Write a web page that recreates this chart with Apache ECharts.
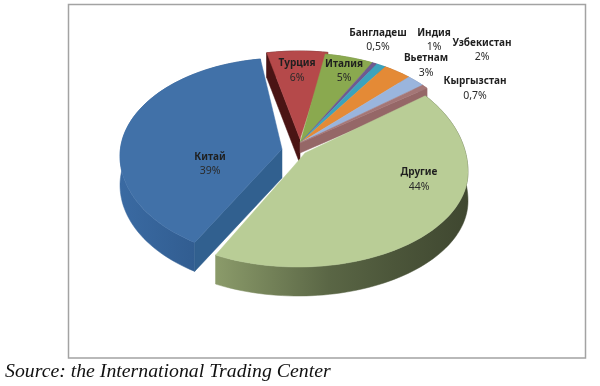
<!DOCTYPE html>
<html><head><meta charset="utf-8">
<style>html,body{margin:0;padding:0;background:#fff}#c{width:600px;height:386px}</style>
<script src="https://cdn.jsdelivr.net/npm/echarts@6/dist/echarts.min.js"></script>
</head><body><div id="c"></div>
<script>
var categories = ['Китай','Турция','Италия','Бангладеш','Индия','Вьетнам','Узбекистан','Кыргызстан','Другие'];
var values = [39,6,5,0.5,1,3,2,0.7,44];
var valueLabels = ['39%','6%','5%','0,5%','1%','3%','2%','0,7%','44%'];
var topColors = ['#4171a8','#b5494a','#8aa94f','#6f5a90','#3ba3bc','#e48a36','#9ab5dd','#a47676','#b9cd96'];
var rimStops = [
  [[0,'#3a6aa2'],[1,'#2a5282']],
  [[0,'#4a1414'],[1,'#4a1414']],
  [[0,'#6c8440'],[1,'#6c8440']],
  [[0,'#574570'],[1,'#574570']],
  [[0,'#2f7d90'],[1,'#2f7d90']],
  [[0,'#a9682c'],[1,'#a9682c']],
  [[0,'#7a8aa8'],[1,'#7a8aa8']],
  [[0,'#966868'],[1,'#966868']],
  [[0,'#8b9b6a'],[0.45,'#5a6645'],[0.7,'#4c563a'],[1,'#3f4730']]
];
var cutColors = {0:['start','#31608f'],1:['start','#4a1414'],7:['end','#956767']};
// pixel layout of each exploded group: ellipse, apex vertices, depth, angle mapping (a + b*t)
var blockOf = [0,1,2,2,2,2,2,2,3];
var blocks = [
  {cx:284,cy:156,rx:164,ry:98,ryb:103,d:29,apex:[[282,149]],a:6,b:1},
  {cx:299,cy:141,rx:165,ry:90,ryb:90,d:25,apex:[[300,139]],a:3,b:1},
  {cx:300,cy:143,rx:160,ry:90,ryb:90,d:10,apex:[[300,143]],a:2,b:1},
  {cx:298,cy:172,rx:170,ry:115,ryb:95,d:29,apex:[[305,153],[293,167]],a:-12.5,b:1.0256}
];
var labelPos = [[210,164],[297,70.5],[344,71],[378,40],[434,40],[426,65.5],[482,50],[475,88.5],[419,179.5]];
var startT = 207;
var total = values.reduce(function(a,b){return a+b;},0);
var angles = [], acc = startT;
values.forEach(function(v){var a0=acc; acc+=v/total*360; angles.push([a0,acc]);});
function mapT(b,t){return b.a+b.b*t;}
function pt(b,t,dz){var r=t*Math.PI/180,c=Math.cos(r);return [b.cx+b.rx*Math.sin(r),b.cy-(c>0?b.ry:b.ryb)*c+(dz||0)];}
function arc(b,t0,t1,dz){var n=Math.max(2,Math.ceil(Math.abs(t1-t0)/2)),p=[];for(var i=0;i<=n;i++)p.push(pt(b,t0+(t1-t0)*i/n,dz));return p;}
function poly(points,fill,z){return {type:'polygon',shape:{points:points},style:{fill:fill,stroke:fill,lineWidth:0.5},z2:z};}
function grad(stops){return new echarts.graphic.LinearGradient(0,0,1,0,stops.map(function(s){return {offset:s[0],color:s[1]};}));}
var order = [0,1,2,3,4,5,6,7,8];
function renderItem(params,api){
  var i=params.dataIndex; api.value(0);
  var b=blocks[blockOf[i]],a=angles[i],els=[],z=order.indexOf(i)*10;
  var t0=mapT(b,a[0]),t1=mapT(b,a[1]);
  var apexStart=b.apex[0];
  var top=arc(b,t0,t1),bot=arc(b,t0,t1,b.d).reverse();
  els.push(poly(top.concat(bot),grad(rimStops[i]),z));
  var cut=cutColors[i];
  if(cut){
    var rimT=cut[0]==='start'?t0:t1,ap=apexStart;
    els.push(poly([ap,pt(b,rimT),pt(b,rimT,b.d),[ap[0],ap[1]+b.d]],cut[1],z+1));
  }
  els.push(poly(top.concat(b.apex.slice().reverse()),topColors[i],z+2));
  return {type:'group',children:els};
}
var labels = categories.map(function(c,i){return {
  type:'text',x:labelPos[i][0],y:labelPos[i][1],z:10,
  style:{text:'{n|'+c+'}\n{v|'+valueLabels[i]+'}',align:'center',verticalAlign:'middle',
    rich:{n:{font:'bold 10px "Noto Sans"',fill:'#1f1f1f',lineHeight:14.5,align:'center'},v:{font:'10.5px "Noto Sans"',fill:'#2a2a2a',lineHeight:14.5,align:'center'}}}
};});
var chart = echarts.init(document.getElementById('c'),null,{renderer:'canvas'});
chart.setOption({
  animation:false,
  backgroundColor:'#fff',
  graphic:[{type:'rect',shape:{x:68.5,y:4.5,width:517,height:353.5},style:{fill:'#fff',stroke:'#a3a3a3',lineWidth:1.5},z:-1},
    {type:'text',x:5,y:372,style:{text:'Source: the International Trading Center',font:'italic 19.8px "Liberation Serif"',fill:'#111',verticalAlign:'middle'}}
  ].concat(labels),
  series:[{type:'custom',coordinateSystem:'none',renderItem:renderItem,data:values.map(function(v,i){return {name:categories[i],value:[v]};}),silent:true}]
});
</script></body></html>
